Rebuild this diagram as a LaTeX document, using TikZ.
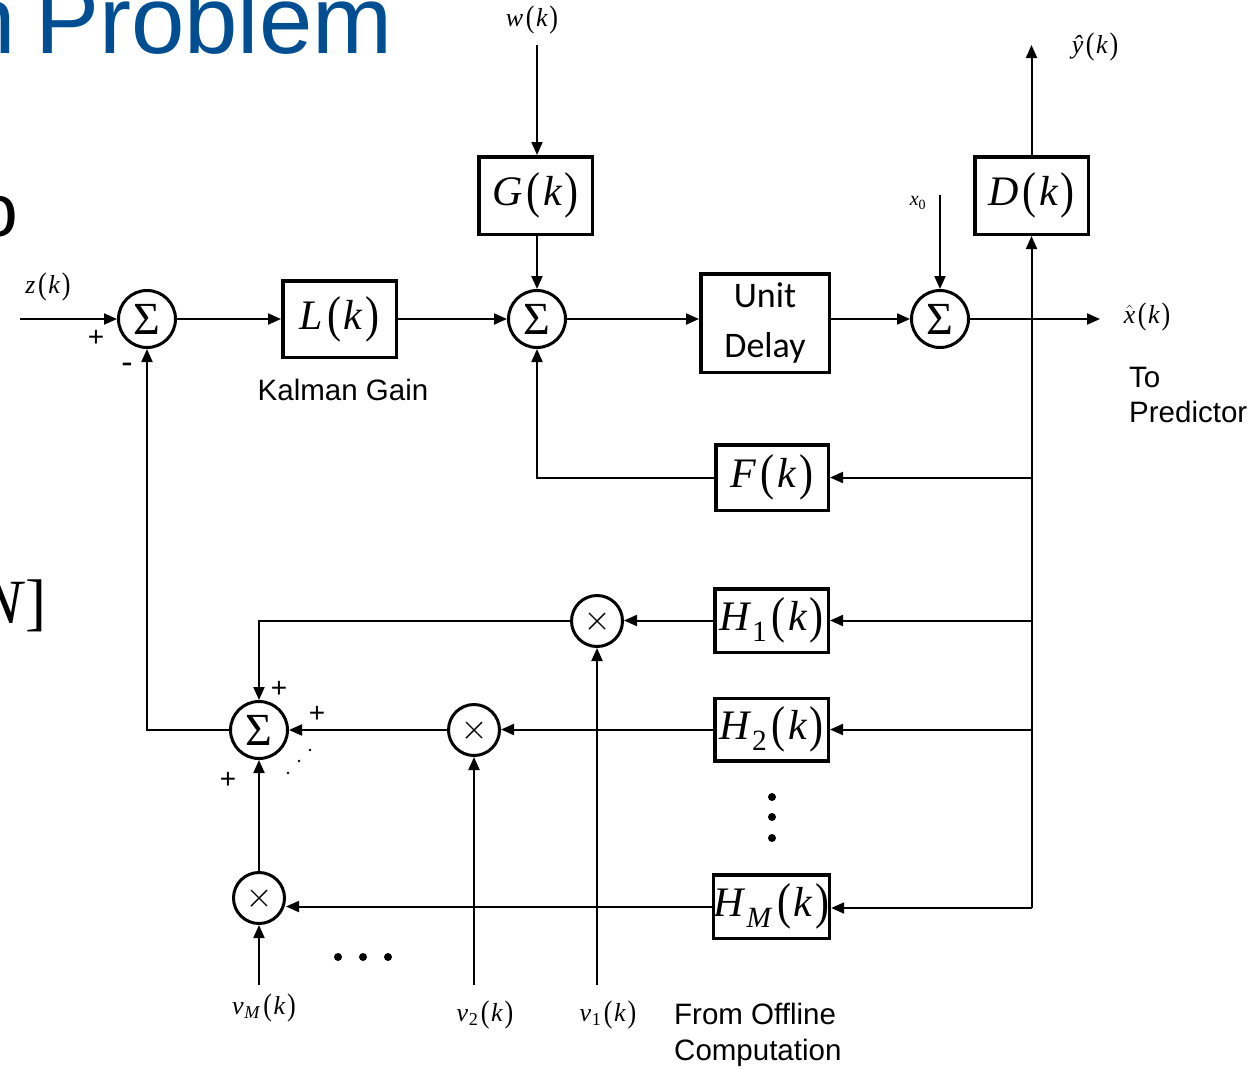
\documentclass[tikz,border=0pt]{standalone}
\usepackage{fontspec}
\usepackage{graphicx}
\setmainfont{Liberation Sans}
\newfontfamily\tnr{Liberation Serif}
\newfontfamily\carl{Carlito}
\usetikzlibrary{arrows.meta,calc}
\definecolor{ttl}{RGB}{0,78,146}
\newcommand\fsz[1]{\fontsize{#1}{#1}\selectfont}
\newcommand\mlab[2]{{\tnr\textit{#1}\ifx&#2&\else\kern0.02em\textsubscript{#2}\fi\kern0.1em\raisebox{-0.04em}{\scalebox{1}[1.2]{(}}\kern0.06em\textit{k}\kern0.06em\raisebox{-0.04em}{\scalebox{1}[1.2]{)}}}}
\begin{document}
\begin{tikzpicture}[x=1pt,y=-1pt,
  arr/.style={line width=2, -{Triangle[length=13,width=11]}},
  ln/.style={line width=2},
  blk/.style={draw, line width=3.5, inner sep=0, font=\fsz{42}},
  sumn/.style={draw, circle, line width=3, minimum size=57, inner sep=0, font=\fsz{46}\tnr},
  muln/.style={draw, circle, line width=3, minimum size=51, inner sep=0,
    path picture={\draw[line width=1.4] (path picture bounding box.center) +(-8,-8) -- +(8,8) +(-8,8) -- +(8,-8);}},
  lbl/.style={inner sep=0, font=\fsz{26}},
  sans/.style={inner sep=0, font=\fsz{29.5}},
  sgn/.style={inner sep=0, font=\fsz{28}},
  dotn/.style={circle, fill, inner sep=0, minimum size=8}
]
\useasboundingbox (0,0) rectangle (1252,1068);
\clip (0,0) rectangle (1252,1068);

% slide fragments
\node[inner sep=0, anchor=base west, text=ttl, font=\fsz{96}] (ttlP) at (35,53) {Problem};
\node[inner sep=0, anchor=base east, text=ttl, font=\fsz{96}] (ttln) at (16,53) {n};
\node[inner sep=0, anchor=base east, font=\fsz{75}] (frago) at (18,236) {o};
\node[inner sep=0, anchor=base east, font=\fsz{63}\tnr] (fragN) at (47,623) {\textit{N}]};

% blocks
\node[sumn] (S1) at (147,319) {Σ};
\node[blk, minimum width=113.5, minimum height=76.5] (L) at (339.5,319) {\mlab{L}{}};
\node[sumn] (S2) at (537,319) {Σ};
\node[blk, minimum width=113.5, minimum height=77.5] (G) at (535.5,195.5) {\mlab{G}{}};
\node[blk, minimum width=128.5, minimum height=98.5, font=\fontsize{36}{50}\selectfont\carl, align=center] (UD) at (765,323) {Unit\\Delay};
\node[sumn] (S3) at (940,319) {Σ};
\node[blk, minimum width=113.5, minimum height=77.5] (D) at (1031.5,195.5) {\mlab{D}{}};
\node[blk, minimum width=112.5, minimum height=65.5] (F) at (772,477.5) {\mlab{F}{}};
\node[blk, minimum width=113.5, minimum height=63.5] (H1) at (771.5,620.5) {\mlab{H}{1}};
\node[blk, minimum width=113.5, minimum height=62.5] (H2) at (771.5,729.5) {\mlab{H}{2}};
\node[blk, minimum width=113.5, minimum height=63.5] (HM) at (771.5,906.5) {\mlab{H}{\textit{M}}};
\node[muln] (M1) at (597,621) {};
\node[muln] (M2) at (474,730) {};
\node[muln] (MM) at (259,898) {};
\node[sumn] (S4) at (259,730) {Σ};

% free ends
\coordinate (zin) at (20,319);
\coordinate (win) at (537,45);
\coordinate (x0in) at (940,195);
\coordinate (xout) at (1100,319);
\coordinate (yout) at (1031.5,45);
\coordinate (tap) at (1031.5,319);
\coordinate (bot) at (1031.5,908);
\coordinate (v1in) at (597,985);
\coordinate (v2in) at (474,985);
\coordinate (vMin) at (259,985);

% forward path
\draw[arr] (zin) -- (S1.west);
\draw[arr] (S1.east) -- (L.west);
\draw[arr] (L.east) -- (S2.west);
\draw[arr] (S2.east) -- (S2.east -| UD.west);
\draw[arr] (S3.west -| UD.east) -- (S3.west);
\draw[arr] (S3.east) -- (xout);
\draw[arr] (win) -- (win |- G.north);
\draw[arr] (S2.north |- G.south) -- (S2.north);
\draw[arr] (x0in) -- (S3.north);
\draw[arr] (tap) -- (D.south);
\draw[arr] (D.north) -- (yout);

% feedback
\draw[ln] (tap) -- (bot);
\draw[arr] (tap |- F.east) -- (F.east);
\draw[arr] (F.west) -| (S2.south);
\draw[arr] (tap |- H1.east) -- (H1.east);
\draw[arr] (tap |- H2.east) -- (H2.east);
\draw[arr] (bot) -- (bot -| HM.east);
\draw[arr] (H1.west) -- (H1.west -| M1.east);
\draw[arr] (H2.west) -- (H2.west -| M2.east);
\draw[arr] (HM.west) -- (HM.west -| MM.east);
\draw[arr] (v1in) -- (M1.south);
\draw[arr] (v2in) -- (M2.south);
\draw[arr] (vMin) -- (MM.south);
\draw[arr] (M1.west) -| (S4.north);
\draw[arr] (M2.west) -- (S4.east);
\draw[arr] (MM.north) -- (S4.south);
\draw[arr] (S4.west) -| (S1.south);

% labels
\node[lbl] (zl) at (48,287) {\mlab{z}{}};
\node[sgn] (p1) at (96,338) {+};
\node[sgn, font=\fsz{34}] (m1) at (127,368) {-};
\node[sans] (kg) at (343,390) {Kalman Gain};
\node[lbl] (wl) at (532,20) {\mlab{w}{}};
\node[lbl, font=\fsz{20}] (x0l) at (918,203) {{\tnr\textit{x}\textsubscript{0}}};
\node[lbl] (yl) at (1095,47) {\mlab{ŷ}{}};
\node[lbl] (xl) at (1147,317) {\mlab{$\hat{\textit{x}}$}{}};
\node[sans, anchor=west, align=left, font=\fontsize{29.5}{35}\selectfont] (tp) at (1129,395) {To\\Predictor};
\node[sans, anchor=west, align=left, font=\fontsize{29.5}{36}\selectfont] (fo) at (674,1035) {From Offline\\Computation};
\node[sgn] (p2) at (279,689) {+};
\node[sgn] (p3) at (317,714) {+};
\node[sgn] (p4) at (228,780) {+};
\fill (310,750) circle (1.3);
\fill (299,761) circle (1.3);
\fill (288,773) circle (1.3);
\node[dotn] (hd1) at (338,957) {};
\node[dotn] (hd2) at (363,957) {};
\node[dotn] (hd3) at (388,957) {};
\node[dotn] (vd1) at (772,797) {};
\node[dotn] (vd2) at (772,817) {};
\node[dotn] (vd3) at (772,838) {};
\node[lbl] (vMl) at (264,1008) {\mlab{v}{\textit{M}}};
\node[lbl] (v2l) at (485,1015) {\mlab{v}{2}};
\node[lbl] (v1l) at (608,1015) {\mlab{v}{1}};
\end{tikzpicture}
\end{document}
